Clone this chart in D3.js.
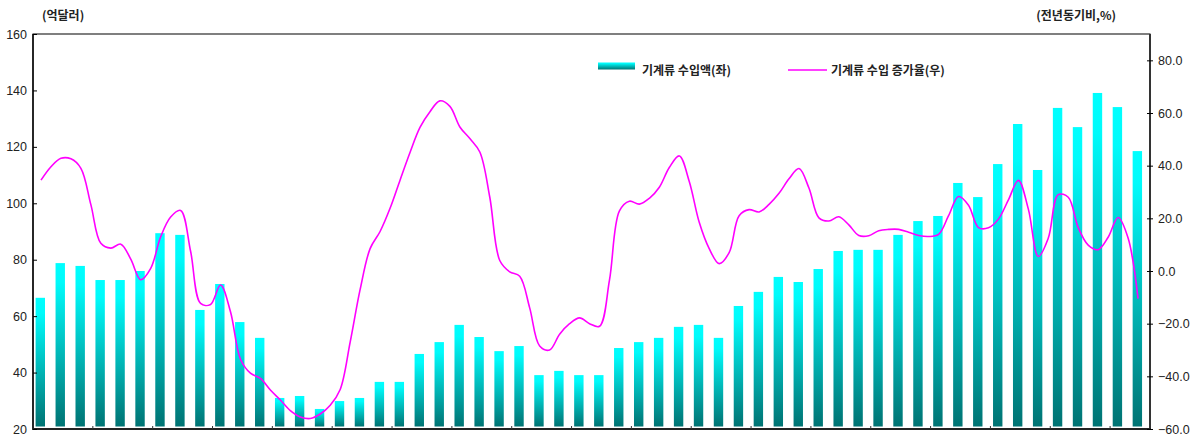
<!DOCTYPE html>
<html>
<head>
<meta charset="utf-8">
<script src="https://cdn.jsdelivr.net/npm/d3@7"></script>
<style>
  body { margin: 0; background: #fff; }
  svg text { font-family: 'Liberation Sans', Arial, sans-serif; fill: #222; }
  svg text.kr { font-family: 'Noto Sans CJK KR', sans-serif; font-weight: 700; }
</style>
</head>
<body>
<svg id="chart" width="1199" height="443"></svg>
<script>
// 기계류 수입액 (억달러), one bar per period
const imports = [
  66.5, 78.8, 77.8, 72.8, 72.8, 76.0, 89.4, 88.8, 62.2, 71.4,
  57.9, 52.3, 31.0, 31.7, 27.1, 29.9, 31.0, 36.7, 36.7, 46.6,
  50.8, 56.9, 52.6, 47.6, 49.4, 39.1, 40.6, 39.1, 39.1, 48.7,
  50.8, 52.3, 56.2, 56.9, 52.3, 63.6, 68.6, 73.9, 72.1, 76.7,
  83.1, 83.5, 83.5, 88.8, 93.7, 95.5, 107.2, 102.2, 113.9, 128.1,
  111.8, 133.8, 127.0, 139.1, 134.1, 118.5
];
// 기계류 수입 증가율 (전년동기비, %), read every half period
const growth = [
  34.5, 39.6, 42.8, 42.6, 39.0, 25.2, 10.5, 8.7, 10.2, 4.5,
  -3.3, 1.0, 13.0, 20.5, 23.0, 7.5, -12.3, -12.7, -5.3, -15.5,
  -33.5, -38.8, -40.8, -45.2, -49.0, -53.0, -55.4, -56.0, -54.3, -51.0,
  -45.0, -27.0, -7.0, 8.5, 15.0, 23.8, 34.5, 45.0, 54.5, 60.5,
  64.6, 62.5, 54.7, 50.3, 45.2, 28.0, 4.0, -0.3, -2.0, -14.0,
  -28.5, -30.0, -24.0, -20.0, -17.8, -20.0, -21.0, -3.5, 22.8, 26.5,
  25.4, 27.6, 31.8, 39.3, 43.7, 34.0, 18.5, 8.5, 2.8, 7.0,
  21.0, 23.3, 22.4, 25.3, 29.5, 35.0, 38.9, 31.5, 20.2, 19.0,
  20.6, 17.5, 13.5, 13.4, 15.3, 15.8, 15.8, 14.7, 13.5, 13.1,
  13.9, 21.0, 28.3, 25.0, 16.5, 16.4, 19.7, 27.0, 34.4, 23.5,
  5.5, 12.5, 29.0, 28.0, 16.5, 9.8, 8.1, 12.8, 20.3, 12.5,
  -10.5
];
const leftTicks = [20, 40, 60, 80, 100, 120, 140, 160];
const rightTicks = [-60, -40, -20, 0, 20, 40, 60, 80];
const leftTitle = '(억달러)';
const rightTitle = '(전년동기비,%)';
const barName = '기계류 수입액(좌)';
const lineName = '기계류 수입 증가율(우)';

const svg = d3.select('#chart');
const m = { left: 33, right: 1150, top: 34, bottom: 429 };

const x = d3.scaleBand().domain(d3.range(imports.length)).range([m.left, m.right]);
const yL = d3.scaleLinear().domain([20, 160]).range([m.bottom, m.top]);
const yR = d3.scaleLinear().domain([-60, 90]).range([m.bottom, m.top]);

const grad = svg.append('defs').append('linearGradient')
  .attr('id', 'barGrad').attr('x1', 0).attr('y1', 0).attr('x2', 0).attr('y2', 1);
grad.append('stop').attr('offset', '0%').attr('stop-color', '#00ffff');
grad.append('stop').attr('offset', '12%').attr('stop-color', '#00fbfb');
grad.append('stop').attr('offset', '100%').attr('stop-color', '#007373');

// bars
const barW = 9.4;
svg.append('g').selectAll('rect')
  .data(imports)
  .enter()
  .append('rect')
  .attr('x', function (d, i) { return x(i) + 2.6; })
  .attr('y', function (d) { return yL(d); })
  .attr('width', barW)
  .attr('height', function (d) { return yL(20) - 2.5 - yL(d); })
  .attr('fill', 'url(#barGrad)');

// growth line, half-period steps
const lineX = function (k) { return x(0) + 8 + k * x.step() / 2; };
const line = d3.line()
  .x(function (d, k) { return lineX(k); })
  .y(function (d) { return yR(d); })
  .curve(d3.curveCatmullRom.alpha(0.5));
svg.append('path')
  .datum(growth)
  .attr('d', line)
  .attr('fill', 'none')
  .attr('stroke', '#ff00ff')
  .attr('stroke-width', 1.6);

// frame
svg.append('rect')
  .attr('x', m.left).attr('y', m.top)
  .attr('width', m.right - m.left).attr('height', m.bottom - m.top)
  .attr('fill', 'none').attr('stroke', '#000').attr('stroke-width', 1);
svg.append('line')
  .attr('x1', m.left).attr('x2', m.left).attr('y1', m.top).attr('y2', m.bottom + 1)
  .attr('stroke', '#111').attr('stroke-width', 1.6);
svg.append('line')
  .attr('x1', m.right).attr('x2', m.right).attr('y1', m.top).attr('y2', m.bottom + 1)
  .attr('stroke', '#333').attr('stroke-width', 2);
svg.append('line')
  .attr('x1', m.left).attr('x2', m.right + 1).attr('y1', m.bottom).attr('y2', m.bottom)
  .attr('stroke', '#222').attr('stroke-width', 2);

// left axis
const gL = svg.append('g').attr('transform', 'translate(' + m.left + ',0)')
  .call(d3.axisLeft(yL).tickValues(leftTicks).tickSizeInner(-4).tickSizeOuter(0).tickPadding(6));
gL.select('.domain').remove();
gL.selectAll('text').attr('font-size', 12.5).attr('fill', '#111');

// right axis
const gR = svg.append('g').attr('transform', 'translate(' + m.right + ',0)')
  .call(d3.axisRight(yR).tickValues(rightTicks).tickFormat(d3.format('.1f')).tickSizeInner(4).tickSizeOuter(0).tickPadding(4));
gR.select('.domain').remove();
gR.selectAll('.tick line').attr('x1', -3).attr('x2', 3);
gR.selectAll('text').attr('font-size', 12.5).attr('fill', '#111');

// bottom ticks every 3 periods
const bTicks = d3.range(3, imports.length, 3);
svg.append('g').selectAll('line')
  .data(bTicks)
  .enter()
  .append('line')
  .attr('x1', function (d) { return x(d); })
  .attr('x2', function (d) { return x(d); })
  .attr('y1', m.bottom)
  .attr('y2', m.bottom - 3)
  .attr('stroke', '#333')
  .attr('stroke-width', 1);

// titles
svg.append('text').classed('kr', true).attr('x', 42).attr('y', 20)
  .attr('font-size', 12).text(leftTitle);
svg.append('text').classed('kr', true).attr('x', 1116).attr('y', 20)
  .attr('text-anchor', 'end').attr('font-size', 12).text(rightTitle);

// legend
svg.append('rect').attr('x', 598).attr('y', 62.5).attr('width', 37).attr('height', 7)
  .attr('fill', 'url(#barGrad)');
svg.append('text').classed('kr', true).attr('x', 642).attr('y', 74.5)
  .attr('font-size', 12).text(barName);
svg.append('line').attr('x1', 788).attr('x2', 827).attr('y1', 70).attr('y2', 70)
  .attr('stroke', '#ff00ff').attr('stroke-width', 1.6);
svg.append('text').classed('kr', true).attr('x', 831).attr('y', 74.5)
  .attr('font-size', 12).text(lineName);
</script>
</body>
</html>
